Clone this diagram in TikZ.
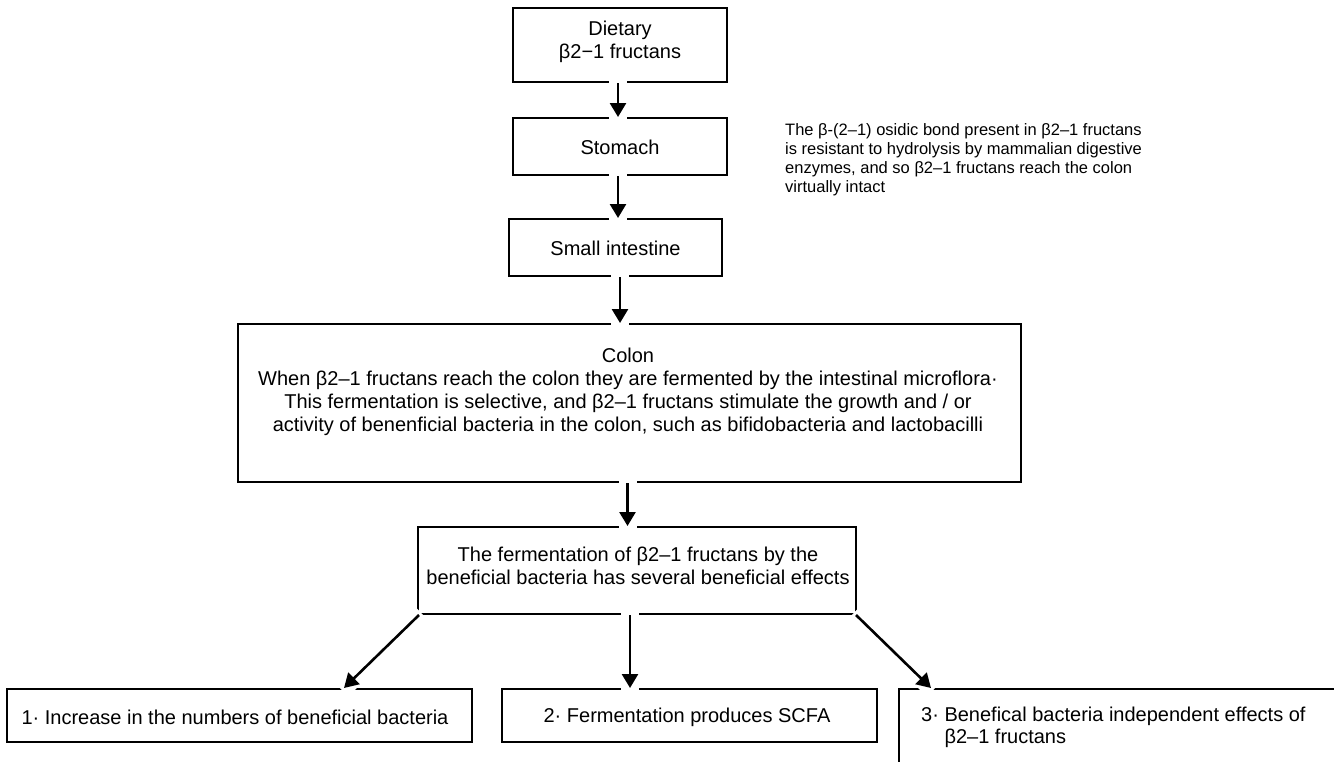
\documentclass[tikz,border=0pt]{standalone}
\usepackage{fontspec}
\setmainfont{Liberation Sans}
\usetikzlibrary{arrows.meta,calc}
\begin{document}
\begin{tikzpicture}[x=1pt,y=-1pt,
  box/.style={draw=black, line width=2pt, rectangle, inner sep=0pt},
  txt/.style={font=\fontsize{20}{23}\selectfont, align=center, inner sep=0pt},
  notetxt/.style={font=\fontsize{16.5}{19}\selectfont, align=left, inner sep=0pt},
  halo/.style={draw=white, line width=18pt, shorten <=-3pt, shorten >=-3pt},
  arr/.style={draw=black, line width=2.6pt, -{Triangle[length=14pt,width=16pt]}},
]
\useasboundingbox (0,0) rectangle (1334,761);
\clip (0,0) rectangle (1334,761);

% boxes
\node[box, minimum width=214pt, minimum height=74pt] (diet) at (620,45) {};
\node[box, minimum width=214pt, minimum height=57pt] (stom) at (620,146.5) {};
\node[box, minimum width=213pt, minimum height=57pt] (small) at (615.5,247.5) {};
\node[box, minimum width=783pt, minimum height=158pt] (colon) at (629.5,403) {};
\node[box, minimum width=438pt, minimum height=87pt] (ferm) at (637,570.5) {};
\node[box, minimum width=465pt, minimum height=53pt] (b1) at (239.5,715.5) {};
\node[box, minimum width=375pt, minimum height=53pt] (b2) at (689.5,715.5) {};
\node[box, minimum width=451pt, minimum height=91pt] (b3) at (1124.5,734.5) {};

% connector end points
\coordinate (t1) at ($(diet.south)+(-2,0)$);
\coordinate (t1e) at (t1 |- stom.north);
\coordinate (t2) at ($(stom.south)+(-2,0)$);
\coordinate (t2e) at (t2 |- small.north);
\coordinate (s1) at ($(small.south)+(4.5,0)$);
\coordinate (s1e) at (s1 |- colon.north);
\coordinate (k1) at ($(colon.south)+(-2,0)$);
\coordinate (k1e) at (k1 |- ferm.north);
\coordinate (c1) at ($(ferm.south west)+(2,0)$);
\coordinate (c1e) at ($(b1.north west)+(338,0)$);
\coordinate (c2) at ($(ferm.south)+(-7,0)$);
\coordinate (c2e) at (c2 |- b2.north);
\coordinate (c3) at ($(ferm.south east)+(-1,0)$);
\coordinate (c3e) at ($(b3.north west)+(33,0)$);

% connectors
\foreach \a/\b in {t1/t1e, t2/t2e, s1/s1e, k1/k1e, c1/c1e, c2/c2e, c3/c3e}{
  \draw[halo] (\a) -- (\b);
  \draw[arr] (\a) -- (\b);
}

% texts
\node[txt] (dietT) at (620,42) {Dietary\\β2−1 fructans};
\node[txt] (stomT) at (620,147) {Stomach};
\node[txt] (smallT) at (615.5,248) {Small intestine};
\node[txt] (colonT) at (628,392) {Colon\\When β2–1 fructans reach the colon they are fermented by the intestinal microflora·\\This fermentation is selective, and β2–1 fructans stimulate the growth and / or\\activity of benenficial bacteria in the colon, such as bifidobacteria and lactobacilli};
\node[txt] (fermT) at (638,566) {The fermentation of β2–1 fructans by the\\beneficial bacteria has several beneficial effects};
\node[txt] (b1T) at (235,717) {1· Increase in the numbers of beneficial bacteria};
\node[txt] (b2T) at (687,717) {2· Fermentation produces SCFA};
\node[txt, align=left, anchor=west, font=\fontsize{20}{22}\selectfont] (b3T) at (921,727.5) {3· Benefical bacteria independent effects of\\\phantom{3· }β2–1 fructans};
\node[notetxt, anchor=north west] (note) at (785,123) {The β-(2–1) osidic bond present in β2–1 fructans\\is resistant to hydrolysis by mammalian digestive\\enzymes, and so β2–1 fructans reach the colon\\virtually intact};
\end{tikzpicture}
\end{document}
